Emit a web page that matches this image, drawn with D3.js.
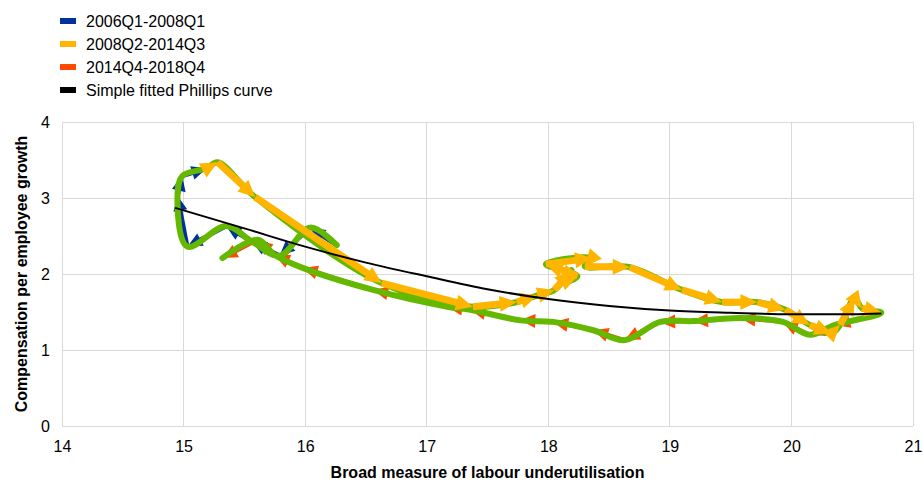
<!DOCTYPE html>
<html><head><meta charset="utf-8">
<script src="https://cdn.jsdelivr.net/npm/d3@7"></script>
<style>
body{margin:0;background:#fff}
text{font-family:"Liberation Sans",Arial,sans-serif;fill:#000}
</style>
</head><body>
<svg id="chart" width="923" height="481"></svg>
<script>
// ---- data ----
const legendLabels = ["2006Q1-2008Q1", "2008Q2-2014Q3", "2014Q4-2018Q4", "Simple fitted Phillips curve"];
const xTicks = [14, 15, 16, 17, 18, 19, 20, 21];
const yTicks = [0, 1, 2, 3, 4];
const xTitle = "Broad measure of labour underutilisation";
const yTitle = "Compensation per employee growth";

// [underutilisation, compensation growth]
const period2006_2008 = [
  [16.26, 2.38], [16.04, 2.61], [15.79, 2.24], [15.56, 2.43], [15.35, 2.63],
  [15.03, 2.36], [14.95, 3.03], [14.99, 3.29], [15.19, 3.39]
];
// starts at the last 2008Q1 point so the path is continuous
const period2008_2014 = [
  [15.19, 3.39], [15.28, 3.47], [15.59, 3.01], [16.63, 1.88], [17.38, 1.57],
  [17.74, 1.63], [17.91, 1.72], [18.05, 1.79], [18.19, 2.05], [18.11, 1.88],
  [18.24, 1.97], [17.98, 2.13], [18.36, 2.21], [18.30, 2.10], [18.67, 2.09],
  [19.10, 1.79], [19.43, 1.63], [19.72, 1.63], [19.95, 1.53], [20.15, 1.33],
  [20.33, 1.22], [20.40, 1.33], [20.52, 1.68], [20.58, 1.55], [20.74, 1.49]
];
// starts at the last 2014Q3 point
const period2014_2018 = [
  [20.74, 1.49], [20.36, 1.33], [20.15, 1.20], [19.93, 1.37], [19.58, 1.42],
  [19.19, 1.38], [18.92, 1.37], [18.63, 1.13], [18.37, 1.26], [18.04, 1.37],
  [17.77, 1.39], [17.36, 1.53], [17.17, 1.57], [16.56, 1.79], [15.98, 2.08],
  [15.75, 2.25], [15.61, 2.45], [15.32, 2.21]
];
const fittedCurve = [
  [14.93, 2.87], [15.5, 2.60], [16.0, 2.36], [16.5, 2.15], [17.0, 1.97],
  [17.5, 1.80], [18.0, 1.67], [18.5, 1.58], [19.0, 1.52], [19.5, 1.49],
  [20.0, 1.47], [20.5, 1.47], [20.74, 1.48]
];

const colors = { blue: "#003299", yellow: "#FFB400", orange: "#FF4B00", green: "#65B800", black: "#000000", grid: "#d9d9d9" };

// ---- layout ----
const svg = d3.select("#chart");
const plotL = 62, plotR = 913, plotT = 122, plotB = 426;
const x = d3.scaleLinear().domain([14, 21]).range([plotL, plotR]);
const y = d3.scaleLinear().domain([0, 4]).range([plotB, plotT]);

// grid
const grid = svg.append("g");
grid.selectAll("line.v").data(xTicks).join("line").attr("class", "v")
  .attr("x1", d => x(d)).attr("x2", d => x(d)).attr("y1", plotT).attr("y2", plotB)
  .attr("stroke", colors.grid).attr("stroke-width", 1).attr("shape-rendering", "crispEdges");
grid.selectAll("line.h").data(yTicks).join("line").attr("class", "h")
  .attr("y1", d => y(d)).attr("y2", d => y(d)).attr("x1", plotL).attr("x2", plotR)
  .attr("stroke", colors.grid).attr("stroke-width", 1).attr("shape-rendering", "crispEdges");

// axes
const xAxis = svg.append("g").attr("transform", `translate(0,${plotB})`)
  .call(d3.axisBottom(x).tickValues(xTicks).tickSize(0).tickPadding(15).tickFormat(d3.format("d")));
const yAxis = svg.append("g").attr("transform", `translate(${plotL},0)`)
  .call(d3.axisLeft(y).tickValues(yTicks).tickSize(0).tickPadding(12).tickFormat(d3.format("d")));
[xAxis, yAxis].forEach(a => {
  a.select(".domain").remove();
  a.selectAll("text").attr("font-size", 16).attr("font-family", "'Liberation Sans', Arial, sans-serif").attr("fill", "#000");
});

svg.append("text").attr("x", (plotL + plotR) / 2).attr("y", 478)
  .attr("text-anchor", "middle").attr("font-size", 16).attr("font-weight", "bold").text(xTitle);
svg.append("text").attr("transform", `translate(27,${(plotT + plotB) / 2}) rotate(-90)`)
  .attr("text-anchor", "middle").attr("font-size", 16).attr("font-weight", "bold").text(yTitle);

// arrows per segment
function drawArrows(data, color, lw, headL, headW) {
  const g = svg.append("g");
  for (let i = 1; i < data.length; i++) {
    const x0 = x(data[i - 1][0]), y0 = y(data[i - 1][1]);
    const x1 = x(data[i][0]), y1 = y(data[i][1]);
    const dx = x1 - x0, dy = y1 - y0, len = Math.hypot(dx, dy) || 1;
    const ux = dx / len, uy = dy / len;
    const cut = Math.min(headL * 0.6, len);
    g.append("line").attr("x1", x0).attr("y1", y0)
      .attr("x2", x1 - ux * cut).attr("y2", y1 - uy * cut)
      .attr("stroke", color).attr("stroke-width", lw).attr("stroke-linecap", "butt");
    const bx = x1 - ux * headL, by = y1 - uy * headL;
    const px = -uy * headW / 2, py = ux * headW / 2;
    g.append("path")
      .attr("d", `M${x1},${y1}L${bx + px},${by + py}L${bx - px},${by - py}Z`)
      .attr("fill", color);
  }
}

drawArrows(period2006_2008, colors.blue, 4.5, 15, 14);
drawArrows(period2014_2018, colors.orange, 4, 15, 14);

// smoothed full path
const fullPath = period2006_2008.concat(period2008_2014.slice(1), period2014_2018.slice(1));
svg.append("path").datum(fullPath)
  .attr("d", d3.line().x(d => x(d[0])).y(d => y(d[1])).curve(d3.curveCatmullRom.alpha(0.5)))
  .attr("fill", "none").attr("stroke", colors.green).attr("stroke-width", 6)
  .attr("stroke-linecap", "round").attr("stroke-linejoin", "round");

drawArrows(period2008_2014, colors.yellow, 7, 17, 16);

// fitted curve
svg.append("path").datum(fittedCurve)
  .attr("d", d3.line().x(d => x(d[0])).y(d => y(d[1])).curve(d3.curveMonotoneX))
  .attr("fill", "none").attr("stroke", colors.black).attr("stroke-width", 2);

// legend
const legColors = [colors.blue, colors.yellow, colors.orange, colors.black];
const leg = svg.append("g");
legendLabels.forEach((t, i) => {
  const cy = 21 + i * 23;
  leg.append("rect").attr("x", 60).attr("y", cy - 3).attr("width", 16).attr("height", 6).attr("fill", legColors[i]);
  leg.append("text").attr("x", 86).attr("y", cy).attr("dy", "0.35em").attr("font-size", 16).text(t);
});
</script>
</body></html>
